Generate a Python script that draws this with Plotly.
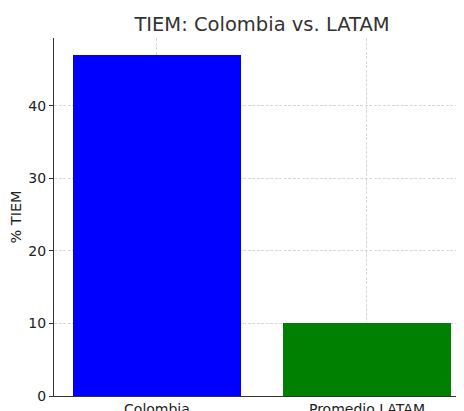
import plotly.graph_objects as go

categories = ["Colombia", "Promedio LATAM"]
values = [47.0, 10.0]
colors = ["#0000ff", "#008000"]

# The page body has an 8px default margin, so figure coords = page coords - 8
OFF = 8
W, H = 464 - OFF, 411 - OFF
font = "DejaVu Sans"

fig = go.Figure()
fig.add_trace(go.Bar(
    x=[0, 1], y=values, width=0.8,
    marker=dict(color=colors, line=dict(width=0)),
    showlegend=False,
))

fig.update_layout(
    width=W, height=H,
    margin=dict(l=54 - OFF, r=0, t=38 - OFF, b=H - (396 - OFF), autoexpand=False),
    paper_bgcolor="white", plot_bgcolor="white",
    font=dict(family=font, size=14, color="#222222"),
    title=dict(text="TIEM: Colombia vs. LATAM", x=(262 - OFF) / W, xanchor="center",
               y=1 - (24 - OFF) / H, yanchor="middle",
               font=dict(family=font, size=19.5, color="#333333")),
    bargap=0,
)
fig.update_xaxes(
    automargin=False,
    range=[-0.49, (464 - 157) / 210], tickmode="array", tickvals=[0, 1], ticktext=categories,
    showgrid=True, gridcolor="#d8d8d8", griddash="3px,1.5px", gridwidth=0.8,
    showline=True, linecolor="#333333", linewidth=1.2,
    ticks="", zeroline=False, tickfont=dict(size=14, color="#222222"),
)
fig.update_yaxes(
    automargin=False,
    range=[0, 49.35], tickvals=[0, 10, 20, 30, 40],
    showgrid=True, gridcolor="#d8d8d8", griddash="3px,1.5px", gridwidth=0.8,
    showline=True, linecolor="#333333", linewidth=1.2,
    ticks="outside", ticklen=4, tickcolor="#333333", zeroline=False,
    title=dict(text="% TIEM", standoff=6, font=dict(size=14.5, color="#222222")),
    tickfont=dict(size=14, color="#222222"),
)
fig.write_html("out.html")
